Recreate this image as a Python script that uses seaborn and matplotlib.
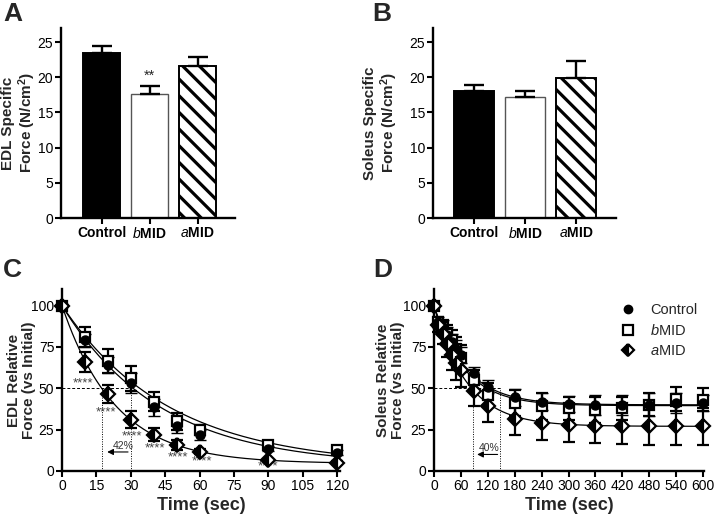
import numpy as np
import pandas as pd
import matplotlib
matplotlib.use("Agg")
import matplotlib.pyplot as plt
from matplotlib.lines import Line2D
import seaborn as sns

# ---------------- data ----------------
groups = ["Control", "bMID", "aMID"]
group_labels = ["Control", r"$\it{b}$MID", r"$\it{a}$MID"]

edl_force = [23.5, 17.6, 21.6]
edl_err = [1.0, 1.2, 1.3]
sol_force = [18.0, 17.2, 19.9]
sol_err = [0.9, 0.9, 2.4]

edl_time = [0, 10, 20, 30, 40, 50, 60, 90, 120]
edl_ctrl = [100, 79, 64, 53, 38.5, 27, 21.5, 13.5, 11]
edl_ctrl_err = [1, 4, 5, 6, 5, 4, 3, 1.5, 1.5]
edl_bmid = [100, 81, 66.5, 56, 42, 30, 24.6, 16, 12.7]
edl_bmid_err = [1, 6, 7.5, 7.5, 6, 5, 3, 1.5, 1.5]
edl_amid = [100, 66, 46.5, 31, 22, 15.5, 11.5, 6.5, 5]
edl_amid_err = [1, 6, 5.5, 5, 4, 3, 1.5, 1, 1]

sol_time = [0, 10, 20, 30, 40, 50, 60, 90, 120, 180, 240, 300, 360, 420, 480, 540, 600]
sol_ctrl = [100, 90, 87, 82, 78, 74, 70, 59, 51, 44.5, 42, 40.5, 40, 40, 40, 41, 41]
sol_ctrl_err = [1, 3, 4, 5, 5, 5, 5, 4, 4, 5, 5, 5, 6, 6, 7, 6, 5]
sol_bmid = [100, 90, 87, 83, 79, 74, 68, 55, 46, 41, 39, 38, 37, 38, 40, 43.5, 43]
sol_bmid_err = [1, 3, 4, 5, 6, 7, 8, 6, 7, 8, 8, 7, 8, 7, 7, 7.5, 7]
sol_amid = [100, 88, 83, 77, 70, 65, 61, 48.5, 39, 31.5, 29, 28, 27.5, 27.5, 27.5, 27.5, 27]
sol_amid_err = [1, 4, 6, 8, 9, 10, 10, 9.5, 9.5, 10, 10.5, 10.5, 10.5, 11, 11.5, 11.5, 11]

# one-phase exponential decay fits: plateau, rate constant (1/s)
edl_fit_plateau = [3.0, 3.0, 4.5]
edl_fit_k = [0.0234, 0.0214, 0.0429]
sol_fit_plateau = [40.0, 39.5, 27.0]
sol_fit_k = [0.0142, 0.0148, 0.0138]

edl_stars_x = [9, 19, 30.5, 40.5, 50.5, 61, 90]
edl_stars_y = [53, 35.5, 21, 13.5, 8, 5.5, 2.5]

# ---------------- style ----------------
sns.set_theme(style="ticks")
plt.rcParams["font.family"] = ["Liberation Sans", "DejaVu Sans"]
plt.rcParams["mathtext.fontset"] = "custom"
plt.rcParams["mathtext.rm"] = "Liberation Sans"
plt.rcParams["mathtext.it"] = "Liberation Sans:italic"
plt.rcParams["mathtext.bf"] = "Liberation Sans:bold"
plt.rcParams["hatch.linewidth"] = 2.3
plt.rcParams["axes.linewidth"] = 1.5

fig = plt.figure(figsize=(7.14, 5.18), dpi=100)
W, H = 714.0, 518.0


def add_ax(left, right, top, bottom):
    return fig.add_axes([left / W, 1 - bottom / H, (right - left) / W, (bottom - top) / H])


axA = add_ax(61, 235, 28, 218)
axB = add_ax(433, 616, 28, 218)
axC = add_ax(62, 340, 289, 471)
axD = add_ax(434, 704, 289, 471)

TICK_FS = 10
LABEL_FS = 11


def style_axis(ax):
    for s in ["top", "right"]:
        ax.spines[s].set_visible(False)
    for s in ["left", "bottom"]:
        ax.spines[s].set_linewidth(1.7)
        ax.spines[s].set_color("black")
    ax.tick_params(axis="both", direction="out", length=4, width=1.5,
                   labelsize=TICK_FS, colors="black", pad=1.5)


def bar_panel(ax, values, errs, ylabel, xlim, label_x):
    df = pd.DataFrame({"group": groups, "force": values})
    sns.barplot(data=df, x="group", y="force", hue="group", order=groups,
                palette={"Control": "black", "bMID": "white", "aMID": "white"},
                edgecolor="black", linewidth=1.4, width=0.77,
                legend=False, errorbar=None, ax=ax)
    for patch, grp in zip(ax.patches, groups):
        if grp == "aMID":
            patch.set_hatch("\\\\")
        if grp == "bMID":
            patch.set_edgecolor("#555555")
            patch.set_linewidth(1.0)
    ax.errorbar(x=np.arange(3), y=values, yerr=[np.zeros(3), errs], fmt="none",
                ecolor="black", elinewidth=1.7, capsize=7, capthick=1.7, zorder=1)
    style_axis(ax)
    ax.set_ylim(0, 27)
    ax.set_yticks([0, 5, 10, 15, 20, 25])
    ax.set_xlim(*xlim)
    ax.set_xticks(range(3))
    ax.set_xticklabels(group_labels, fontsize=10, fontweight="bold")
    ax.set_xlabel("")
    ax.set_ylabel(ylabel, fontsize=LABEL_FS, fontweight="bold", linespacing=1.1)
    ax.yaxis.set_label_coords(label_x, 0.5)


bar_panel(axA, edl_force, edl_err, "EDL Specific\nForce (N/cm$^{\\mathbf{2}}$)",
          (-0.85, 2.78), -0.13)
axA.text(1, 19.2, "**", ha="center", va="bottom", fontsize=10.5)
bar_panel(axB, sol_force, sol_err, "Soleus Specific\nForce (N/cm$^{\\mathbf{2}}$)",
          (-0.8, 2.78), -0.18)

names = ["Control", r"$\it{b}$MID", r"$\it{a}$MID"]
marker_specs = [
    dict(fmt="o", markerfacecolor="black", markeredgecolor="black", markersize=6.5,
         markeredgewidth=1.0, fillstyle="full"),
    dict(fmt="s", markerfacecolor="white", markeredgecolor="black", markersize=7,
         markeredgewidth=1.6, fillstyle="full"),
    dict(fmt="D", markerfacecolor="black", markeredgecolor="black", markersize=7,
         markeredgewidth=1.6, fillstyle="left"),
]


def decay_panel(ax, t, series, errs, plateaus, ks, xmax, xticks, ylabel, label_x):
    tfine = np.linspace(0, max(t), 400)
    for p, k in zip(plateaus, ks):
        curve = p + (100 - p) * np.exp(-k * tfine)
        sns.lineplot(x=tfine, y=curve, color="black", linewidth=0.9, ax=ax, zorder=2)
    for i in [1, 0, 2]:
        eb = ax.errorbar(t, series[i], yerr=errs[i], ecolor="black", color="black",
                         elinewidth=1.6, capsize=4, capthick=1.6,
                         zorder=3, clip_on=False, **marker_specs[i])
        if i == 2:
            eb[0].set_markerfacecoloralt("white")
    style_axis(ax)
    ax.set_xlim(0, xmax)
    ax.set_ylim(0, 110)
    ax.set_xticks(xticks)
    ax.set_yticks([0, 25, 50, 75, 100])
    ax.set_xlabel("Time (sec)", fontsize=13, fontweight="bold", labelpad=3)
    ax.set_ylabel(ylabel, fontsize=LABEL_FS, fontweight="bold", linespacing=1.1)
    ax.yaxis.set_label_coords(label_x, 0.5)


decay_panel(axC, edl_time, [edl_ctrl, edl_bmid, edl_amid],
            [edl_ctrl_err, edl_bmid_err, edl_amid_err],
            edl_fit_plateau, edl_fit_k, 121.2, list(range(0, 121, 15)),
            "EDL Relative\nForce (vs Initial)", -0.092)
decay_panel(axD, sol_time, [sol_ctrl, sol_bmid, sol_amid],
            [sol_ctrl_err, sol_bmid_err, sol_amid_err],
            sol_fit_plateau, sol_fit_k, 602, list(range(0, 601, 60)),
            "Soleus Relative\nForce (vs Initial)", -0.108)

# annotations C
axC.plot([0, 30], [50, 50], ls=(0, (3, 2)), color="black", lw=0.7, zorder=1)
axC.plot([17.5, 17.5], [0, 50], ls=(0, (1, 1.5)), color="black", lw=0.7, zorder=1)
axC.plot([30, 30], [0, 50], ls=(0, (1, 1.5)), color="black", lw=0.7, zorder=1)
axC.annotate("", xy=(18.5, 11.5), xytext=(30, 11.5),
             arrowprops=dict(arrowstyle="-|>", color="black", lw=0.8, mutation_scale=9))
axC.text(26.5, 12.2, "42%", ha="center", va="bottom", fontsize=7.5, color="#333333")
for sx, sy in zip(edl_stars_x, edl_stars_y):
    axC.text(sx, sy, "****", ha="center", va="center", fontsize=9.5, color="#444444")

# annotations D
axD.plot([0, 148], [50, 50], ls=(0, (3, 2)), color="black", lw=0.7, zorder=1)
axD.plot([87, 87], [0, 50], ls=(0, (1, 1.5)), color="black", lw=0.7, zorder=1)
axD.plot([148, 148], [0, 50], ls=(0, (1, 1.5)), color="black", lw=0.7, zorder=1)
axD.annotate("", xy=(90, 10), xytext=(148, 10),
             arrowprops=dict(arrowstyle="-|>", color="black", lw=0.8, mutation_scale=9))
axD.text(124, 10.7, "40%", ha="center", va="bottom", fontsize=7.5, color="#333333")

# legend D
leg_handles = [
    Line2D([], [], ls="none", marker="o", mfc="black", mec="black", ms=6),
    Line2D([], [], ls="none", marker="s", mfc="white", mec="black", ms=6.5, mew=1.6),
    Line2D([], [], ls="none", marker="D", mfc="black", mec="black", ms=6.5, mew=1.6,
           fillstyle="left", markerfacecoloralt="white"),
]
axD.legend(leg_handles, names, loc="upper left", bbox_to_anchor=(0.67, 0.955),
           frameon=False, fontsize=10.5, handlelength=1.0, handletextpad=1.0,
           labelspacing=0.4, borderaxespad=0.0)

# panel letters
for letter, x, y in [("A", 3, 21), ("B", 372, 21), ("C", 3, 277), ("D", 373, 277)]:
    fig.text(x / W, 1 - y / H, letter, fontsize=19, fontweight="bold",
             ha="left", va="baseline")

fig.savefig("out.png", dpi=100)
